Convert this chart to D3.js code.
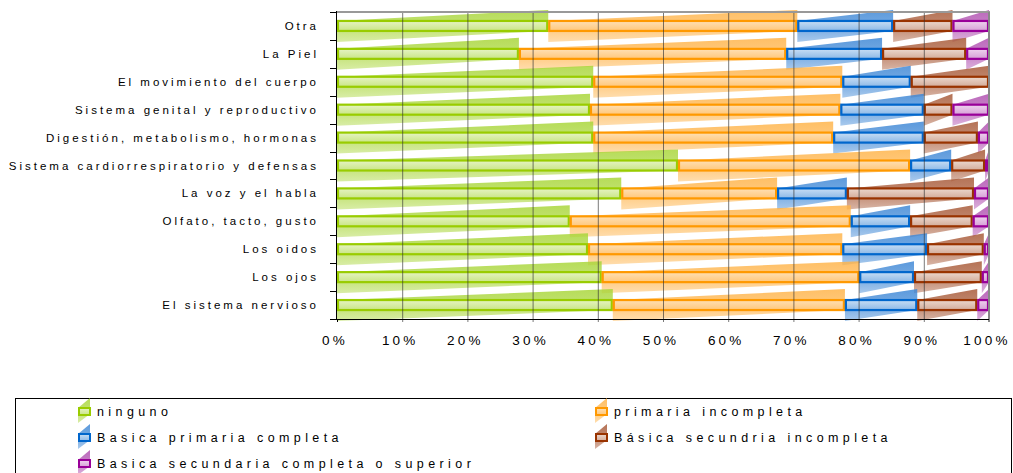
<!DOCTYPE html>
<html><head><meta charset="utf-8">
<script src="https://cdn.jsdelivr.net/npm/d3@7/dist/d3.min.js"></script>
<style>body{margin:0;background:#fff}svg{display:block}text{font-family:"Liberation Sans",Arial,sans-serif;fill:#000}</style>
</head><body><svg id="c" width="1013" height="473"></svg>
<script>
const categories = ["Otra","La Piel","El movimiento del cuerpo","Sistema genital y reproductivo","Digestión, metabolismo, hormonas","Sistema cardiorrespiratorio y  defensas","La voz y el habla","Olfato, tacto, gusto","Los oidos","Los ojos","El sistema nervioso"];
const seriesNames = ["ninguno","primaria incompleta","Basica primaria completa","Básica secundria incompleta","Basica secundaria completa o superior"];
const ninguno     = [32.4,27.9,39.3,38.8,39.3,52.3,43.6,35.7,38.5,40.6,42.3];
const primariaInc = [38.2,41.0,38.2,38.4,36.8,35.6,23.9,43.1,39.0,39.5,35.6];
const primariaCom = [14.7,14.7,10.5,12.8,13.9,6.3,10.7,9.1,13.0,8.4,11.1];
const secundInc   = [9.1,12.9,12.0,4.4,8.3,5.2,19.5,9.6,8.7,10.4,9.2];
const secundCom   = [5.6,3.5,0.0,5.6,1.7,0.6,2.3,2.5,0.8,1.1,1.8];
const xTicks = [0,10,20,30,40,50,60,70,80,90,100];

const strokes = ["#99CC00","#FF9900","#0066CC","#993300","#990099"];
const polys   = ["#a9d63a","#ffb44a","#3f88d6","#a85a38","#b050b0"];
const boxesLo = ["#c9e585","#ffc77a","#8cb8e6","#d3ab98","#d6a0d6"];
const boxesHi = ["#e6f4c4","#ffe0b5","#c8def5","#ecd8ce","#efd3ef"];

const svg = d3.select("#c");
const defs = svg.append("defs");
strokes.forEach((c,i)=>{
  const g = defs.append("linearGradient").attr("id","pg"+i).attr("x1",0).attr("y1",0).attr("x2",0).attr("y2",1);
  g.append("stop").attr("offset","0%").attr("stop-color",polys[i]).attr("stop-opacity",0.85);
  g.append("stop").attr("offset","55%").attr("stop-color",polys[i]).attr("stop-opacity",0.7);
  g.append("stop").attr("offset","100%").attr("stop-color",polys[i]).attr("stop-opacity",0.45);
  const b = defs.append("linearGradient").attr("id","bg"+i).attr("x1",0).attr("y1",0).attr("x2",0).attr("y2",1);
  b.append("stop").attr("offset","0%").attr("stop-color",boxesHi[i]);
  b.append("stop").attr("offset","100%").attr("stop-color",boxesLo[i]);
});

const x = d3.scaleLinear().domain([0,100]).range([337,989]);
const y = d3.scaleBand().domain(categories).range([12,319]).padding(0);
const D = 11, H = 5;

const rows = categories.map((c,i)=>({cat:c, s0:ninguno[i], s1:primariaInc[i], s2:primariaCom[i], s3:secundInc[i], s4:secundCom[i]}));
const stack = d3.stack().keys(["s0","s1","s2","s3","s4"])(rows);

// bars
const gBars = svg.append("g");
categories.forEach((cat,ci)=>{
  const cy = y(cat) + y.bandwidth()/2;
  stack.forEach((layer,si)=>{
    const d = layer[ci];
    if (d[1]-d[0] <= 0) return;
    const x0 = x(d[0]), x1 = x(d[1]);
    gBars.append("path")
      .attr("d", `M${x0},${cy-H}L${x1},${cy-H-D}L${x1},${cy+H}L${x0},${cy+H+D}Z`)
      .attr("fill", `url(#pg${si})`);
    gBars.append("rect")
      .attr("x", x0+1).attr("y", cy-H).attr("width", Math.max(0,x1-x0-2)).attr("height", 2*H)
      .attr("fill", `url(#bg${si})`).attr("stroke", strokes[si]).attr("stroke-width", 2.2);
  });
});

// grid on top
const gGrid = svg.append("g");
gGrid.selectAll("line.g").data(xTicks.slice(1,-1)).join("line")
  .attr("x1",d=>x(d)+0.5).attr("x2",d=>x(d)+0.5).attr("y1",12).attr("y2",322)
  .attr("stroke","#333").attr("stroke-opacity",0.65).attr("stroke-width",1);
gGrid.append("line").attr("x1",337).attr("x2",990).attr("y1",12).attr("y2",12).attr("stroke","#999").attr("stroke-width",2);
gGrid.append("line").attr("x1",989).attr("x2",989).attr("y1",12).attr("y2",322).attr("stroke","#888").attr("stroke-width",2);

// axes
svg.append("line").attr("x1",336.5).attr("x2",336.5).attr("y1",11).attr("y2",320).attr("stroke","#000");
svg.append("line").attr("x1",330).attr("x2",989).attr("y1",319.5).attr("y2",319.5).attr("stroke","#000");
const bounds = categories.map(c=>y(c)).concat([y.range()[1]]);
svg.selectAll("line.ct").data(bounds).join("line")
  .attr("x1",330).attr("x2",336).attr("y1",d=>Math.round(d)+0.5).attr("y2",d=>Math.round(d)+0.5).attr("stroke","#000");
svg.append("line").attr("x1",337.5).attr("x2",337.5).attr("y1",319).attr("y2",322).attr("stroke","#000");

// category labels
svg.selectAll("text.cat").data(categories).join("text")
  .attr("x",319).attr("y",d=>y(d)+y.bandwidth()/2+4)
  .attr("text-anchor","end").style("font-size","11.5px").style("letter-spacing","3px")
  .text(d=>d);

// x tick labels
svg.selectAll("text.xt").data(xTicks).join("text")
  .attr("x",d=>x(d)-2).attr("y",345)
  .attr("text-anchor","middle").style("font-size","13.5px").style("letter-spacing","3.2px")
  .text(d=>d+"%");

// legend
const lg = svg.append("g");
lg.append("rect").attr("x",15.5).attr("y",398.5).attr("width",996).attr("height",90).attr("fill","#fff").attr("stroke","#000");
const legPos = [[78,411],[595,411],[78,437],[595,437],[78,463]];
seriesNames.forEach((n,i)=>{
  const [lx,ly] = legPos[i];
  const g = lg.append("g");
  g.append("path").attr("d",`M${lx},${ly-3}L${lx+12},${ly-13}L${lx+12},${ly+3}L${lx},${ly+12}Z`).attr("fill",`url(#pg${i})`);
  g.append("rect").attr("x",lx+1).attr("y",ly-3).attr("width",11).attr("height",7)
    .attr("fill",`url(#bg${i})`).attr("stroke",strokes[i]).attr("stroke-width",2);
  g.append("text").attr("x",lx+19).attr("y",ly+4.5).style("font-size","12.5px").style("letter-spacing","4.4px").text(n);
});
</script></body></html>
